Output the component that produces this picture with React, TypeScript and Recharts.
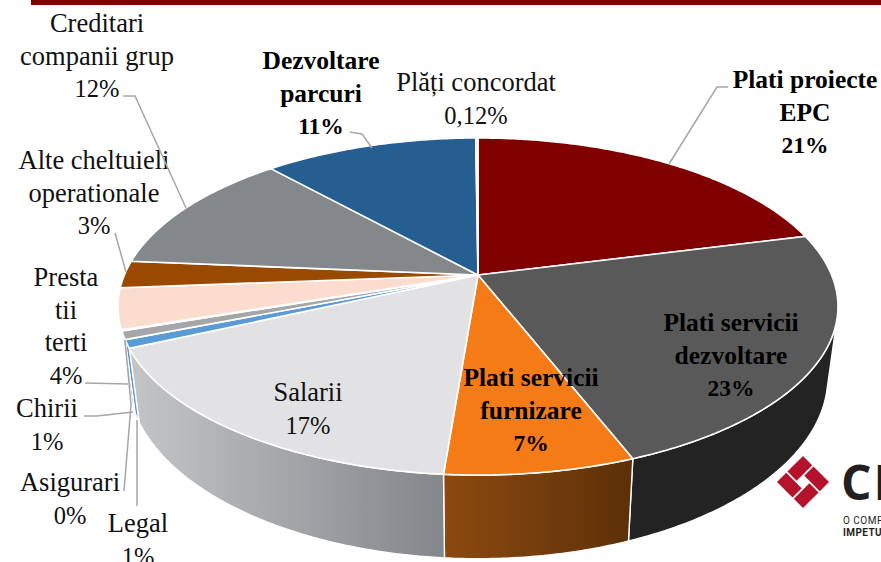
import React from "react";
import { PieChart, Pie } from "recharts";

const categories = ["Plati proiecte EPC", "Plati servicii dezvoltare", "Plati servicii furnizare", "Salarii", "Legal", "Chirii", "Asigurari", "Prestatii terti", "Alte cheltuieli operationale", "Creditari companii grup", "Dezvoltare parcuri", "Plăți concordat"];
const values = [21, 23.1, 7.15, 16.9, 0.8, 0.8, 0.1, 3.9, 2.6, 12, 11.5, 0.12];
const percentLabels = ["21%", "23%", "7%", "17%", "1%", "1%", "0%", "4%", "3%", "12%", "11%", "0,12%"];
const colors = ["#800000", "#595959", "#f47b16", "#e2e2e4", "#5b9bd5", "#a5a6a8", "#fbdccf", "#fbdccf", "#9a4a00", "#85888b", "#255e91", "#dfe8f2"];
const wallFills = ["#500000", "#232323", "url(#wallOrange)", "url(#wallGray)", "#5b9bd5", "#a5a6a8", "#fbdccf", "#fbdccf", "#9a4a00", "#85888b", "#255e91", "#dfe8f2"];

const data = categories.map((name, i) => ({ name, value: values[i], fill: colors[i], wall: wallFills[i] }));

// Label layout, by slice index: wrapped lines, centre x, first baseline, leader line
type Layout = { lines: string[]; x: number; y: number; bold?: boolean; leader?: number[][] };
const layout: Layout[] = [
  { lines: ["Plati proiecte", "EPC"], x: 805, y: 88, bold: true, leader: [[728, 87], [717, 87], [669, 164]] },
  { lines: ["Plati servicii", "dezvoltare"], x: 731, y: 331, bold: true },
  { lines: ["Plati servicii", "furnizare"], x: 531, y: 386, bold: true },
  { lines: ["Salarii"], x: 308, y: 401 },
  { lines: ["Legal"], x: 138, y: 532, leader: [[137, 506], [137, 420]] },
  { lines: ["Chirii"], x: 47, y: 417, leader: [[84, 416], [97, 416], [133, 412]] },
  { lines: ["Asigurari"], x: 70, y: 491, leader: [[124, 491], [131, 405], [125, 340]] },
  { lines: ["Presta", "tii", "terti"], x: 66, y: 286, leader: [[85, 383], [128, 384]] },
  { lines: ["Alte cheltuieli", "operationale"], x: 94, y: 169, leader: [[115, 233], [126, 272]] },
  { lines: ["Creditari", "companii grup"], x: 97, y: 32, leader: [[123, 96], [135, 96], [186, 208]] },
  { lines: ["Dezvoltare", "parcuri"], x: 321, y: 69, bold: true, leader: [[350, 132], [362, 134], [372, 148]] },
  { lines: ["Plăți concordat"], x: 476, y: 91 },
];
const lineHeight = 32.5;

const FONT = '"Liberation Serif", serif';
const PERSPECTIVE = 0.187;
const SQUASH = 0.46;
const DEPTH = 68;
const BOTTOM_X = 0.972;
const WALL_FROM = 105;
const WALL_TO = 251.3;

function project(theta: number, cx: number, cy: number, r: number) {
  const t = (theta * Math.PI) / 180;
  const s = Math.sin(t);
  const c = Math.cos(t);
  const w = 1 + PERSPECTIVE * c;
  return { x: cx + (r * s) / w, y: cy - (r * SQUASH * c) / w, w };
}

function arcPoints(from: number, to: number, cx: number, cy: number, r: number) {
  const n = Math.max(2, Math.ceil(Math.abs(to - from) * 2));
  const pts = [];
  for (let i = 0; i <= n; i++) pts.push(project(from + ((to - from) * i) / n, cx, cy, r));
  return pts;
}

const toPath = (pts: { x: number; y: number }[]) => pts.map((p, i) => `${i ? "L" : "M"}${p.x.toFixed(2)} ${p.y.toFixed(2)}`).join(" ");

function TopShape(props: any) {
  const { cx, cy, outerRadius, startAngle, endAngle, fill } = props;
  const pts = arcPoints(90 - startAngle, 90 - endAngle, cx, cy, outerRadius);
  return <path d={`M${cx} ${cy} ${toPath(pts).replace("M", "L")} Z`} fill={fill} stroke="#fff" strokeWidth={1.6} strokeLinejoin="round" />;
}

function WallShape(props: any) {
  const { cx, cy, outerRadius, startAngle, endAngle, payload } = props;
  const from = Math.max(90 - startAngle, WALL_FROM);
  const to = Math.min(90 - endAngle, WALL_TO);
  if (to <= from) return <g />;
  const top = arcPoints(from, to, cx, cy, outerRadius);
  const bottom = top.map((p) => ({ x: cx + (p.x - cx) * BOTTOM_X, y: p.y + DEPTH / p.w })).reverse();
  return <path d={`${toPath(top)} ${toPath(bottom).replace("M", "L")} Z`} fill={payload?.wall ?? props.wall} stroke="#fff" strokeWidth={1.4} strokeLinejoin="round" />;
}

function renderLabel(props: any) {
  const i = props.index as number;
  const l = layout[i];
  const ys = l.lines.map((_, k) => l.y + k * lineHeight);
  const pctY = l.y + l.lines.length * lineHeight;
  return (
    <g key={i}>
      {l.leader ? <polyline points={l.leader.map((p) => p.join(",")).join(" ")} fill="none" stroke="#a6a6a6" strokeWidth={1.5} /> : null}
      <text fontFamily={FONT} fontSize={l.bold ? 25.5 : 26.5} fontWeight={l.bold ? 700 : 400} fill={l.bold ? "#000" : "#111"} textAnchor="middle">
        {l.lines.map((t, k) => (
          <tspan key={k} x={l.x} y={ys[k]}>{t}</tspan>
        ))}
        <tspan x={l.x} y={pctY} fontSize={l.bold ? 23.5 : 24.5}>{percentLabels[i]}</tspan>
      </text>
    </g>
  );
}

export default function App() {
  return (
    <div style={{ position: "fixed", left: 0, top: 0, width: 881, height: 562, overflow: "hidden", background: "#fff" }}>
      <div style={{ position: "absolute", left: 31, top: 0, width: 850, height: 5, background: "#800000" }} />
      <svg width={881} height={562} style={{ position: "absolute", left: 0, top: 0 }}>
        <g transform="translate(803 482) rotate(45)" fill="#b5132b">
          <rect x={-18.4} y={-18.4} width={13} height={22} />
          <rect x={-3.6} y={-18.4} width={22} height={13} />
          <rect x={5.4} y={-3.6} width={13} height={22} />
          <rect x={-18.4} y={5.4} width={22} height={13} />
        </g>
        <text x={841} y={500} fontFamily='"Open Sans", sans-serif' fontSize={48} fontWeight={700} letterSpacing={2} fill="#231f20">CI</text>
        <text x={843} y={524} fontFamily='"Roboto", sans-serif' fontSize={10} letterSpacing={0.5} fill="#231f20">O COMPANIE</text>
        <text x={843} y={536} fontFamily='"Roboto", sans-serif' fontSize={10} fontWeight={700} letterSpacing={0.4} fill="#231f20">IMPETUM</text>
      </svg>
      <div style={{ position: "absolute", left: 0, top: 0 }}>
        <PieChart width={881} height={562} margin={{ top: 0, right: 0, bottom: 0, left: 0 }}>
          <defs>
            <linearGradient id="wallGray" x1="0" y1="0" x2="1" y2="0">
              <stop offset="0" stopColor="#c4c5c6" />
              <stop offset="1" stopColor="#83868a" />
            </linearGradient>
            <linearGradient id="wallOrange" x1="0" y1="0" x2="1" y2="0">
              <stop offset="0" stopColor="#8c4a10" />
              <stop offset="1" stopColor="#5c3008" />
            </linearGradient>
          </defs>
          <Pie data={data} dataKey="value" nameKey="name" cx={478} cy={275} outerRadius={353.6} startAngle={90} endAngle={-270} isAnimationActive={false} label={false} labelLine={false} shape={WallShape} />
          <Pie data={data} dataKey="value" nameKey="name" cx={478} cy={275} outerRadius={353.6} startAngle={90} endAngle={-270} isAnimationActive={false} label={renderLabel} labelLine={false} shape={TopShape} />
        </PieChart>
      </div>
    </div>
  );
}
